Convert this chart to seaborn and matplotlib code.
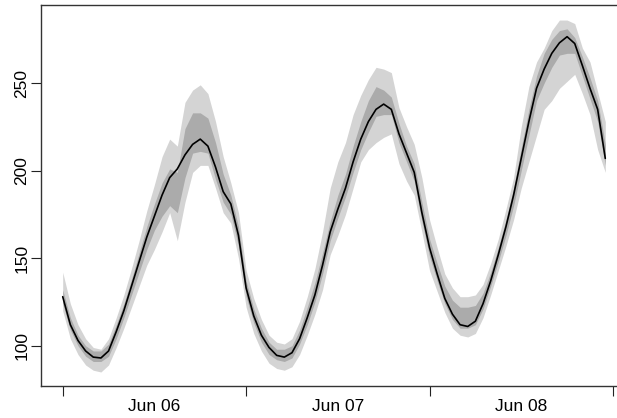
import matplotlib
matplotlib.use("Agg")
import matplotlib.pyplot as plt
import seaborn as sns
import numpy as np
import pandas as pd

# hours since Jun 06 00:00
hours = list(range(72))

mean = [128, 112, 103, 97, 93.5, 93, 97, 108, 120, 134, 148, 162, 174, 186, 196, 201,
        209, 215, 218, 214, 202, 188, 181, 163,
        133, 117, 106, 99, 94.5, 93.5, 96, 104, 116, 129, 146, 165, 178, 190, 205, 218,
        228, 235, 238, 235, 221, 210, 199, 176,
        156, 141, 127, 118, 112, 111, 114, 124, 137, 152, 168, 186, 207, 228, 247, 258,
        267, 273, 276.5, 272.6, 260, 247, 235, 207]
lo80 = [124, 109, 100, 94, 91, 91, 94, 104, 116, 129, 142, 155, 166, 174, 180, 176,
        196, 210, 211, 210, 195, 182, 175, 157,
        128, 113, 102, 95, 92, 91, 93, 101, 112, 125, 141, 160, 173, 185, 199, 212,
        222, 231, 232, 232, 216, 205, 194, 171,
        151, 137, 124, 115, 110, 110, 112, 121, 134, 148, 163, 180, 200, 220, 240, 250,
        259, 266, 267, 267, 254, 241, 228, 203]
hi80 = [132, 116, 106, 100, 97, 97, 101, 112, 124, 138, 153, 168, 181, 193, 201, 199,
        224, 233, 233, 230, 216, 198, 186, 168,
        137, 121, 110, 102, 98, 98, 100, 109, 122, 136, 153, 171, 186, 198, 214, 228,
        240, 248, 246, 242, 227, 214, 204, 182,
        161, 147, 134, 126, 122, 122, 123, 130, 142, 156, 172, 190, 213, 235, 254, 267,
        275, 280, 281, 276, 265, 253, 240, 215]
lo95 = [120, 104, 95, 89, 86, 85, 89, 99, 110, 122, 134, 146, 155, 165, 176, 160,
        182, 199, 203, 203, 190, 176, 170, 150,
        122, 107, 97, 90, 87, 86, 88, 95, 106, 118, 132, 152, 163, 175, 190, 205,
        212, 216, 219, 221, 204, 194, 186, 165,
        143, 131, 119, 110, 106, 105, 107, 116, 129, 143, 157, 172, 190, 205, 220, 235,
        240, 247, 251, 255, 244, 232, 212, 199]
hi95 = [142, 124, 112, 104, 99, 98, 104, 116, 129, 144, 160, 177, 192, 208, 218, 214,
        239, 246, 249, 244, 228, 208, 193, 176,
        143, 127, 115, 106, 102, 101, 104, 114, 128, 144, 165, 190, 205, 216, 232, 243,
        252, 259, 258, 256, 236, 225, 215, 196,
        172, 156, 141, 133, 128, 128, 129, 135, 147, 161, 178, 196, 225, 248, 262, 270,
        280, 286, 286, 284, 270, 262, 245, 228]

day_ticks = [0, 24, 48, 72]
label_pos = [12, 36, 60]
day_labels = ["Jun 06", "Jun 07", "Jun 08"]
y_ticks = [100, 150, 200, 250]

df = pd.DataFrame({"hour": hours, "mean": mean, "lo80": lo80, "hi80": hi80,
                   "lo95": lo95, "hi95": hi95})

sns.set_style("white")
plt.rcParams['font.family'] = ['Liberation Sans', 'DejaVu Sans']

fig = plt.figure(figsize=(6.17, 4.18), dpi=100)
ax = fig.add_axes([41/617, 1-386/418, (627-41)/617, (386-5)/418])

ax.fill_between(df["hour"], df["lo95"], df["hi95"], color="#D4D4D4", linewidth=0, zorder=1)
ax.fill_between(df["hour"], df["lo80"], df["hi80"], color="#ABABAB", linewidth=0, zorder=2)
sns.lineplot(data=df, x="hour", y="mean", color="black", linewidth=1.2, ax=ax, zorder=3)

ax.set_xlim(-2.84, 73.84)
ax.set_ylim(77.0, 294.6)
ax.set_xlabel("")
ax.set_ylabel("")

ax.set_xticks(day_ticks)
ax.set_xticklabels([])
ax.set_xticks(label_pos, minor=True)
ax.set_xticklabels(day_labels, minor=True)
ax.tick_params(axis="x", which="major", direction="out", length=7.5, width=0.8,
               color="#222222", bottom=True)
ax.tick_params(axis="x", which="minor", length=0, pad=9.5, labelsize=12.5, labelcolor="black")

ax.set_yticks(y_ticks)
ax.set_yticklabels([str(v) for v in y_ticks], rotation=90, va="center")
ax.tick_params(axis="y", which="major", direction="out", length=7, width=0.8,
               color="#222222", left=True, pad=1.5, labelsize=12.5, labelcolor="black")

for s in ax.spines.values():
    s.set_visible(True)
    s.set_color("#333333")
    s.set_linewidth(1.0)

fig.savefig("out.png", dpi=100)
